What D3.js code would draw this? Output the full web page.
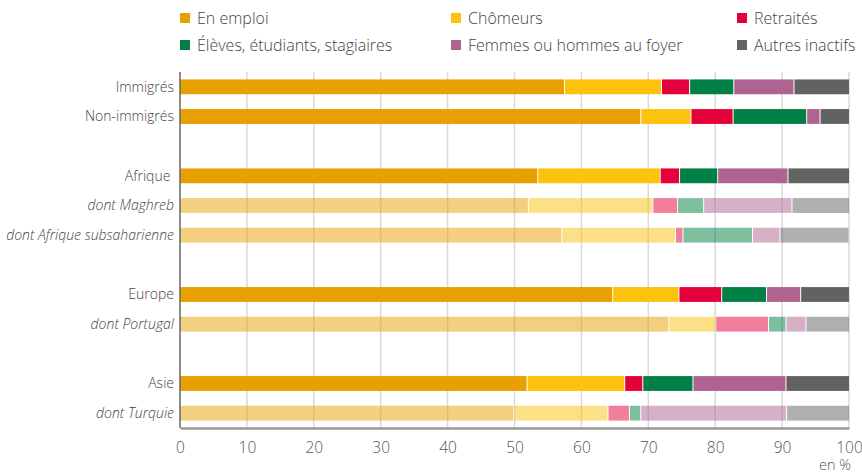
<!DOCTYPE html>
<html>
<head>
<meta charset="utf-8">
<script src="https://cdn.jsdelivr.net/npm/d3@7"></script>
<style>
  body { margin: 0; background: #fff; }
  svg { font-family: "Open Sans", sans-serif; }
</style>
</head>
<body>
<div id="chart"></div>
<script>
// categories (blank strings are spacer rows)
var categories = ["Immigrés", "Non-immigrés", "", "Afrique ", "dont Maghreb", "dont Afrique subsaharienne",
                  " ", "Europe", "dont Portugal", "  ", "Asie", "dont Turquie"];
var subRows = ["dont Maghreb", "dont Afrique subsaharienne", "dont Portugal", "dont Turquie"];

var seriesNames = ["En emploi", "Chômeurs", "Retraités", "Élèves, étudiants, stagiaires",
                   "Femmes ou hommes au foyer", "Autres inactifs"];
var seriesColors = ["#e89f00", "#fcc20e", "#e4003a", "#008044", "#ae6391", "#626262"];

// one array per series, same order as categories (null for spacer rows)
var enEmploi  = [57.4, 68.8, null, 53.4, 52.0, 57.0, null, 64.6, 73.0, null, 51.8, 49.8];
var chomeurs  = [14.5,  7.5, null, 18.3, 18.6, 17.0, null,  9.9,  7.0, null, 14.6, 14.1];
var retraites = [ 4.2,  6.3, null,  2.9,  3.7,  1.1, null,  6.4,  7.9, null,  2.7,  3.2];
var eleves    = [ 6.6, 11.0, null,  5.7,  3.9, 10.4, null,  6.7,  2.6, null,  7.5,  1.7];
var foyer     = [ 9.0,  2.0, null, 10.5, 13.2,  4.1, null,  5.1,  3.0, null, 13.9, 21.8];
var autres    = [ 8.3,  4.4, null,  9.2,  8.6, 10.3, null,  7.3,  6.5, null,  9.5,  9.4];

var xTicks = [0, 10, 20, 30, 40, 50, 60, 70, 80, 90, 100];

var seriesValues = [enEmploi, chomeurs, retraites, eleves, foyer, autres];

var W = 862, H = 473;
var margin = {top: 72, left: 180, right: 13, bottom: 45};
var plotW = W - margin.left - margin.right,
    plotH = H - margin.top - margin.bottom;

var svg = d3.select("#chart").append("svg")
    .attr("width", W)
    .attr("height", H);

var x = d3.scaleLinear().domain([0, 100]).range([0, plotW]);
var y = d3.scaleBand().domain(categories).range([0, plotH])
    .paddingInner(0.5).paddingOuter(0.25);

/* legend */
var legend = svg.append("g").attr("class", "legend");
var legX = [180, 451, 737], legY = [18, 45];
seriesNames.forEach(function(name, i) {
  var g = legend.append("g")
    .attr("transform", "translate(" + legX[i % 3] + "," + legY[Math.floor(i / 3)] + ")");
  g.append("rect")
    .attr("x", 0).attr("y", -5)
    .attr("width", 10).attr("height", 10)
    .style("fill", seriesColors[i]);
  g.append("text")
    .attr("x", 17).attr("dy", "0.35em")
    .style("font-size", "16px")
    .style("font-weight", 300)
    .style("fill", "#444")
    .text(name);
});

var vis = svg.append("g")
    .attr("transform", "translate(" + margin.left + "," + margin.top + ")");

/* gridlines */
vis.selectAll(".grid")
  .data(xTicks.slice(1))
  .enter().append("line")
    .attr("class", "grid")
    .attr("x1", x).attr("x2", x)
    .attr("y1", 0).attr("y2", plotH)
    .style("stroke", "#d9d9d9")
    .style("stroke-width", 1.5);

/* stacked bars */
var rows = [];
categories.forEach(function(c, i) {
  if (enEmploi[i] === null) return;
  var start = 0, segs = [];
  seriesValues.forEach(function(arr, s) {
    segs.push({cat: c, s: s, x0: start, x1: start + arr[i]});
    start += arr[i];
  });
  rows.push({cat: c, sub: subRows.indexOf(c) >= 0, segs: segs});
});

var rowG = vis.selectAll(".row")
  .data(rows)
  .enter().append("g")
    .attr("class", "row")
    .attr("transform", function(d) { return "translate(0," + y(d.cat) + ")"; })
    .style("opacity", function(d) { return d.sub ? 0.5 : 1; });

rowG.selectAll("rect")
  .data(function(d) { return d.segs; })
  .enter().append("rect")
    .attr("x", function(d) { return x(d.x0) + (d.s > 0 ? 1 : 0); })
    .attr("y", 0)
    .attr("width", function(d) { return Math.max(0, x(d.x1) - x(d.x0) - (d.s > 0 ? 1 : 0)); })
    .attr("height", y.bandwidth())
    .style("fill", function(d) { return seriesColors[d.s]; });

/* category labels */
vis.selectAll(".ylabel")
  .data(rows)
  .enter().append("text")
    .attr("class", "ylabel")
    .attr("x", -6)
    .attr("y", function(d) { return y(d.cat) + y.bandwidth() / 2; })
    .attr("dy", "0.35em")
    .attr("text-anchor", "end")
    .style("white-space", "pre")
    .style("font-size", "14px")
    .style("font-weight", 300)
    .style("font-style", function(d) { return d.sub ? "italic" : "normal"; })
    .style("fill", "#444")
    .text(function(d) { return d.cat; });

/* axes */
vis.append("line")
    .attr("x1", 0).attr("x2", 0)
    .attr("y1", 0).attr("y2", plotH)
    .style("stroke", "#666")
    .style("stroke-width", 1.5);

var xAxis = vis.append("g")
    .attr("transform", "translate(0," + plotH + ")")
    .call(d3.axisBottom(x).tickValues(xTicks).tickSize(0).tickPadding(14));
xAxis.select(".domain").style("stroke", "#999").style("stroke-width", 2.5);
xAxis.selectAll("text")
    .style("font-family", "'Open Sans', sans-serif")
    .style("font-size", "15.5px")
    .style("font-weight", 300)
    .style("fill", "#555");

vis.append("text")
    .attr("x", plotW + 2)
    .attr("y", plotH + 42)
    .attr("text-anchor", "end")
    .style("font-size", "14.5px")
    .style("font-weight", 300)
    .style("fill", "#555")
    .text("en %");
</script>
</body>
</html>
